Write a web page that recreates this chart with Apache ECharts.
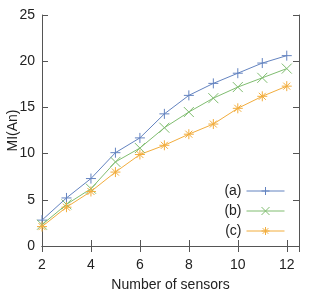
<!DOCTYPE html>
<html>
<head>
<meta charset="utf-8">
<script src="https://cdn.jsdelivr.net/npm/echarts@6/dist/echarts.min.js"></script>
<style>html,body{margin:0;padding:0;background:#fff;}#c{width:314px;height:299px;}</style>
</head>
<body>
<div id="c"></div>
<script>
var sensors = [2, 3, 4, 5, 6, 7, 8, 9, 10, 11, 12];
var seriesA = [2.8, 5.2, 7.3, 10.1, 11.7, 14.3, 16.3, 17.6, 18.7, 19.8, 20.6];
var seriesB = [2.3, 4.5, 6.2, 9.1, 10.6, 12.8, 14.5, 16.0, 17.2, 18.2, 19.2];
var seriesC = [2.1, 4.2, 5.9, 8.0, 9.9, 10.9, 12.1, 13.2, 14.9, 16.2, 17.3];
var seriesNames = ['(a)', '(b)', '(c)'];
var xTicks = [2, 4, 6, 8, 10, 12];
var yTicks = [0, 5, 10, 15, 20, 25];

var colors = ['#6383c0', '#80bd70', '#f2ad3d'];
var symbols = [
  'path://M0,-1L0,1M-1,0L1,0',
  'path://M-1,-1L1,1M-1,1L1,-1',
  'path://M0,-1L0,1M-1,0L1,0M-0.7,-0.7L0.7,0.7M-0.7,0.7L0.7,-0.7'
];
var font = 'Liberation Sans, Arial, sans-serif';
var axisColor = '#555555';

function pairs(vals) { return sensors.map(function (x, i) { return [x, vals[i]]; }); }
var allVals = [seriesA, seriesB, seriesC];

var series = allVals.map(function (vals, i) {
  return {
    name: seriesNames[i],
    type: 'line',
    data: pairs(vals),
    symbol: symbols[i],
    symbolSize: 10,
    showAllSymbol: true,
    lineStyle: { color: colors[i], width: 1 },
    itemStyle: { color: 'rgba(0,0,0,0)', borderColor: colors[i], borderWidth: 1 },
    emphasis: { disabled: true },
    animation: false
  };
});

function labelFmt(list) {
  return function (v) { return list.indexOf(v) >= 0 ? String(v) : ''; };
}

var option = {
  backgroundColor: '#fff',
  animation: false,
  grid: { left: 42, top: 15, right: 15, bottom: 53, containLabel: false, outerBoundsMode: 'none' },
  legend: {
    orient: 'vertical',
    right: 24,
    top: 179,
    align: 'right',
    itemWidth: 38,
    itemHeight: 10,
    itemGap: 6,
    itemStyle: { color: 'rgba(0,0,0,0)', borderWidth: 1 },
    lineStyle: { width: 1 },
    textStyle: { fontFamily: font, fontSize: 14, color: '#222' },
    data: seriesNames
  },
  xAxis: [{
    type: 'value', min: 2, max: 12.5, interval: 2,
    name: 'Number of sensors', nameLocation: 'middle', nameGap: 32, nameMoveOverlap: false,
    nameTextStyle: { fontFamily: font, fontSize: 14, color: '#222' },
    axisLine: { show: true, lineStyle: { color: axisColor, width: 1 } },
    axisTick: { show: true, inside: true, length: 6, lineStyle: { color: axisColor } },
    axisLabel: { fontFamily: font, fontSize: 14, color: '#222', margin: 12, formatter: labelFmt(xTicks) },
    splitLine: { show: false }
  }, {
    type: 'value', min: 2, max: 12.5, interval: 2, position: 'top',
    axisLine: { show: true, lineStyle: { color: axisColor, width: 1 } },
    axisTick: { show: true, inside: true, length: 6, lineStyle: { color: axisColor } },
    axisLabel: { show: false },
    splitLine: { show: false }
  }],
  yAxis: [{
    type: 'value', min: 0, max: 25, interval: 5,
    name: 'MI(An)', nameLocation: 'middle', nameGap: 22, nameMoveOverlap: false,
    nameTextStyle: { fontFamily: font, fontSize: 14, color: '#222' },
    axisLine: { show: true, lineStyle: { color: axisColor, width: 1 } },
    axisTick: { show: true, inside: true, length: 6, lineStyle: { color: axisColor } },
    axisLabel: { fontFamily: font, fontSize: 14, color: '#222', margin: 7, formatter: labelFmt(yTicks) },
    splitLine: { show: false }
  }, {
    type: 'value', min: 0, max: 25, interval: 5, position: 'right',
    axisLine: { show: true, lineStyle: { color: axisColor, width: 1 } },
    axisTick: { show: true, inside: true, length: 6, lineStyle: { color: axisColor } },
    axisLabel: { show: false },
    splitLine: { show: false }
  }],
  series: series
};

var chart = echarts.init(document.getElementById('c'), null, { renderer: 'canvas' });
chart.setOption(option);
</script>
</body>
</html>
